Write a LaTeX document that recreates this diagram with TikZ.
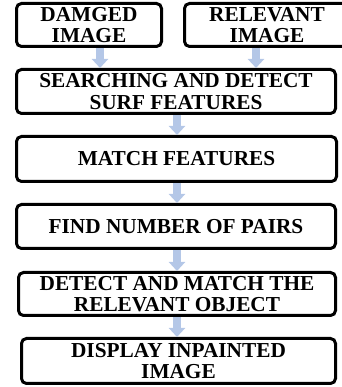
\documentclass[tikz,border=0pt]{standalone}
\usepackage{fontspec}
\setmainfont{Liberation Serif}
\usetikzlibrary{arrows.meta}
\definecolor{arrowblue}{RGB}{180,199,231}
\begin{document}
\begin{tikzpicture}[x=1pt,y=1pt,
  box/.style={draw=black, line width=3pt, rounded corners=5pt, fill=white,
    align=center, inner sep=0pt, font=\fontsize{21.3}{21.5}\selectfont\bfseries},
  flow/.style={draw=arrowblue, line width=8pt,
    -{Triangle[width=16pt,length=9pt]}, shorten >=0pt}]
\useasboundingbox (0,0) rectangle (341,387);
\node[box, minimum width=145, minimum height=43] (dam) at (89,362) {DAMGED\\IMAGE};
\node[box, minimum width=165, minimum height=43] (rel) at (267,362) {RELEVANT\\IMAGE};
\node[box, minimum width=319, minimum height=44] (surf) at (176,295.5) {SEARCHING AND DETECT\\SURF FEATURES};
\node[box, minimum width=320, minimum height=45] (match) at (176.5,228) {MATCH FEATURES};
\node[box, minimum width=319, minimum height=44] (pairs) at (176,160.5) {FIND NUMBER OF PAIRS};
\node[box, minimum width=317, minimum height=43] (obj) at (177,93) {DETECT AND MATCH THE\\RELEVANT OBJECT};
\node[box, minimum width=314, minimum height=45] (disp) at (178.5,26) {DISPLAY INPAINTED\\IMAGE};
\coordinate (a1s) at (dam.south -| 100,0);
\coordinate (a1e) at (surf.north -| 100,0);
\coordinate (a2s) at (rel.south -| 256,0);
\coordinate (a2e) at (surf.north -| 256,0);
\coordinate (c1) at (177,0);
\draw[flow] (a1s) -- (a1e);
\draw[flow] (a2s) -- (a2e);
\draw[flow] (surf.south -| c1) -- (match.north -| c1);
\draw[flow] (match.south -| c1) -- (pairs.north -| c1);
\draw[flow] (pairs.south -| c1) -- (obj.north -| c1);
\draw[flow] (obj.south -| c1) -- (disp.north -| c1);
\end{tikzpicture}
\end{document}
